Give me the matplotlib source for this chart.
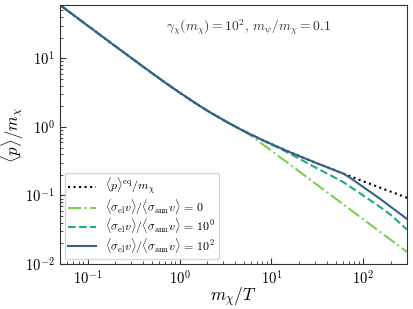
import numpy as np
import matplotlib
matplotlib.use("Agg")
import matplotlib.pyplot as plt

plt.rcParams['mathtext.fontset'] = 'cm'
plt.rcParams['font.family'] = 'serif'
plt.rcParams['font.serif'] = ['cmr10', 'DejaVu Serif']
plt.rcParams['axes.formatter.use_mathtext'] = True

# m_chi/T grid and <p>/m_chi values
x = [0.05, 0.1, 0.2, 0.3, 0.5, 0.7, 1, 1.5, 2, 3, 4, 5, 6, 7, 8, 10,
     15, 20, 30, 50, 60, 70, 100, 150, 200, 300]
p_eq = [60.0, 30.0, 15.05, 10.09, 6.10, 4.42, 3.17, 2.21, 1.73, 1.26, 1.02, 0.873,
        0.773, 0.700, 0.644, 0.562, 0.443, 0.377, 0.302, 0.231, 0.210, 0.194,
        0.161, 0.131, 0.1135, 0.0925]
p_r0 = [60.0, 30.0, 15.05, 10.09, 6.10, 4.42, 3.17, 2.21, 1.73, 1.26, 1.02, 0.865,
        0.745, 0.640, 0.560, 0.450, 0.300, 0.225, 0.150, 0.090, 0.075, 0.0643,
        0.045, 0.030, 0.0225, 0.015]
p_r1 = [60.0, 30.0, 15.05, 10.09, 6.10, 4.42, 3.17, 2.21, 1.73, 1.26, 1.02, 0.873,
        0.773, 0.700, 0.642, 0.556, 0.425, 0.345, 0.257, 0.180, 0.158, 0.138,
        0.100, 0.069, 0.052, 0.0318]
p_r2 = [60.0, 30.0, 15.05, 10.09, 6.10, 4.42, 3.17, 2.21, 1.73, 1.26, 1.02, 0.873,
        0.773, 0.700, 0.644, 0.562, 0.443, 0.377, 0.302, 0.231, 0.210, 0.186,
        0.133, 0.091, 0.068, 0.0455]

labels = [r'$\langle p\rangle^{\rm eq}/m_\chi$',
          r'$\langle\sigma_{\rm el}v\rangle/\langle\sigma_{\rm ann}v\rangle\,=\,0$',
          r'$\langle\sigma_{\rm el}v\rangle/\langle\sigma_{\rm ann}v\rangle\,=\,10^0$',
          r'$\langle\sigma_{\rm el}v\rangle/\langle\sigma_{\rm ann}v\rangle\,=\,10^2$']

fig = plt.figure(figsize=(4.13, 3.09), dpi=100)
ax = fig.add_axes([0.1453, 0.1456, 0.8402, 0.8382])

ax.plot(x, p_eq, ':', c='k', lw=1.5, label=labels[0])
ax.plot(x, p_r0, '-.', c='#7ad151', lw=1.5, label=labels[1])
ax.plot(x, p_r1, '--', c='#22a884', lw=1.5, label=labels[2])
ax.plot(x, p_r2, '-', c='#355f8d', lw=1.5, label=labels[3])

ax.set_xscale('log')
ax.set_yscale('log')
ax.set_xlim(0.05, 300)
ax.set_ylim(1e-2, 60)
ax.set_xlabel(r'$m_\chi/T$', fontsize=12.5)
ax.set_ylabel(r'$\langle p\rangle/m_\chi$', fontsize=12)
ax.xaxis.set_label_coords(0.5, -0.085)
ax.yaxis.set_label_coords(-0.097, 0.5)
ax.tick_params(which='both', direction='in', labelsize=10.5, colors='#333333', labelcolor='k')
ax.tick_params(which='major', length=4, pad=4)
ax.tick_params(which='minor', length=2)
for s in ax.spines.values():
    s.set_color('#333333')

ax.text(0.305, 0.915, r'$\gamma_\chi(m_\chi) = 10^2,\, m_\psi/m_\chi = 0.1$',
        transform=ax.transAxes, ha='left', va='center', fontsize=9.8, color='#333333')

ax.legend(loc='lower left', fontsize=8.6, handlelength=2.3, borderaxespad=0.4,
          labelspacing=0.0, borderpad=0.3, edgecolor='#cccccc')

fig.savefig('out.png', dpi=100)
